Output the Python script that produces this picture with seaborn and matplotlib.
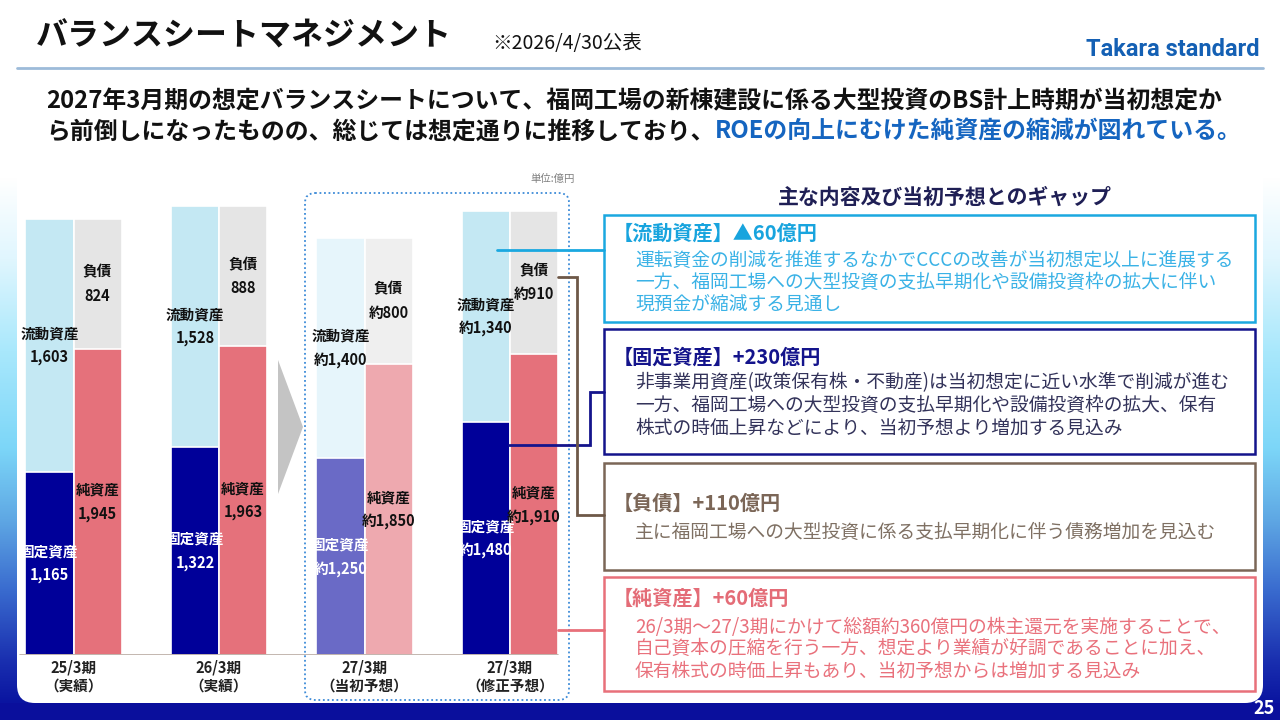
import matplotlib.pyplot as plt
import numpy as np
import pandas as pd
import seaborn as sns
from matplotlib.colors import LinearSegmentedColormap
from matplotlib.patches import FancyBboxPatch, Polygon, Rectangle

sns.set_theme(style="white")
plt.rcParams["font.family"] = ["Noto Sans CJK JP", "DejaVu Sans"]

W, H = 1280, 720

# ---- data (億円) ----
periods = ["25/3期\n（実績）", "26/3期\n（実績）", "27/3期\n（当初予想）", "27/3期\n（修正予想）"]
fixed_assets = [1165, 1322, 1250, 1480]
current_assets = [1603, 1528, 1400, 1340]
net_assets = [1945, 1963, 1850, 1910]
liabilities = [824, 888, 800, 910]
approx = [False, False, True, True]
initial_forecast = [False, False, True, False]

sides = ["資産", "負債・純資産"]

# ---- texts ----
title = "バランスシートマネジメント"
date_note = "※2026/4/30公表"
logo = "Takara standard"
lead_1 = "2027年3月期の想定バランスシートについて、福岡工場の新棟建設に係る大型投資のBS計上時期が当初想定か"
lead_2a = "ら前倒しになったものの、総じては想定通りに推移しており、"
lead_2b = "ROEの向上にむけた純資産の縮減が図れている。"
gap_heading = "主な内容及び当初予想とのギャップ"
box_titles = ["【流動資産】▲60億円", "【固定資産】+230億円", "【負債】+110億円", "【純資産】+60億円"]
box_bodies = [
    ["運転資金の削減を推進するなかでCCCの改善が当初想定以上に進展する",
     "一方、福岡工場への大型投資の支払早期化や設備投資枠の拡大に伴い",
     "現預金が縮減する見通し"],
    ["非事業用資産(政策保有株・不動産)は当初想定に近い水準で削減が進む",
     "一方、福岡工場への大型投資の支払早期化や設備投資枠の拡大、保有",
     "株式の時価上昇などにより、当初予想より増加する見込み"],
    ["主に福岡工場への大型投資に係る支払早期化に伴う債務増加を見込む"],
    ["26/3期～27/3期にかけて総額約360億円の株主還元を実施することで、",
     "自己資本の圧縮を行う一方、想定より業績が好調であることに加え、",
     "保有株式の時価上昇もあり、当初予想からは増加する見込み"],
]

# colours per segment (actual / initial forecast)
col_fixed = ["#6a6ac6" if f else "#000099" for f in initial_forecast]
col_current = ["#e6f5fb" if f else "#c4e8f3" for f in initial_forecast]
col_net = ["#eea9af" if f else "#e5717b" for f in initial_forecast]
col_liab = ["#efefef" if f else "#e5e5e5" for f in initial_forecast]

fig = plt.figure(figsize=(W / 100, H / 100), dpi=100)

# ---- background layer (pixel coordinates) ----
bg = fig.add_axes([0, 0, 1, 1])
bg.set_xlim(0, W)
bg.set_ylim(H, 0)
bg.axis("off")
bg.set_zorder(0)

grad_cmap = LinearSegmentedColormap.from_list(
    "bggrad",
    [(0.0, "#ffffff"), (0.15, "#e0f6fe"), (0.32, "#a9e8fc"), (0.5, "#7cd6f8"),
     (0.63, "#5fa8e4"), (0.76, "#3a6ccf"), (0.89, "#1a30b0"), (0.97, "#0a14a0"),
     (1.0, "#0a0f9c")],
)
grad = np.linspace(0, 1, 256).reshape(-1, 1)
bg.imshow(grad, cmap=grad_cmap, aspect="auto", extent=(0, W, H, 177), origin="upper", zorder=0)
bg.add_patch(Rectangle((0, 703), W, 17, fc="#0a0f9c", ec="none", zorder=0.5))
bg.add_patch(FancyBboxPatch((17, 110), 1246, 593, boxstyle="round,pad=0,rounding_size=18",
                            fc="white", ec="none", zorder=1))
bg.add_patch(FancyBboxPatch((305, 193), 264, 507, boxstyle="round,pad=0,rounding_size=10",
                            fill=False, ec="#3d8bd8", lw=1.3, ls=(0, (1, 1.5)), zorder=2))
bg.add_patch(Polygon([(278, 360), (303, 427), (278, 494)], closed=True, fc="#c4c4c4", ec="none", zorder=2))

# ---- chart ----
ax = fig.add_axes([0.75 / W, (H - 655) / H, 582 / W, 472.5 / H])
ax.set_zorder(1)
ax.patch.set_alpha(0)

df = pd.DataFrame({
    "period": periods * 2,
    "side": [sides[0]] * 4 + [sides[1]] * 4,
    "total": [f + c for f, c in zip(fixed_assets, current_assets)]
             + [n + l for n, l in zip(net_assets, liabilities)],
    "base": fixed_assets + net_assets,
})

# totals first, then the lower segment on top of them
for col in ["total", "base"]:
    sns.barplot(data=df, x="period", y=col, hue="side", order=periods, hue_order=sides,
                palette=["#cccccc", "#cccccc"], width=0.66, gap=0, dodge=True,
                errorbar=None, legend=False, edgecolor="white", linewidth=1.2, ax=ax)

for cont, cols in zip(ax.containers, [col_current, col_liab, col_fixed, col_net]):
    for bar, c in zip(cont, cols):
        bar.set_facecolor(c)

ax.set_xlim(-0.5, 3.5)
ax.set_ylim(0, 3000)
ax.set_xlabel("")
ax.set_ylabel("")
ax.set_yticks([])
ax.set_xticks(range(len(periods)))
ax.set_xticklabels(periods, fontsize=10.5, fontweight="bold", color="#222222", linespacing=1.15)
ax.tick_params(axis="x", length=0, pad=3)
sns.despine(ax=ax, left=True, bottom=True)
ax.axhline(0, xmin=(20 - 0.75) / 582, xmax=(558 - 0.75) / 582, color="#b9aaa2", lw=1.2, zorder=5)

off = 0.165


def seg_label(x, lo, hi, name, value, color):
    mid = (lo + hi) / 2
    kw = dict(textcoords="offset points", ha="center", va="center",
              fontsize=10.5, fontweight="bold", color=color, zorder=6)
    ax.annotate(name, (x, mid), xytext=(0, 8.6), **kw)
    ax.annotate(value, (x, mid), xytext=(0, -8.6), **kw)


for i in range(len(periods)):
    pre = "約" if approx[i] else ""
    fa, ca, na, li = fixed_assets[i], current_assets[i], net_assets[i], liabilities[i]
    seg_label(i - off, 0, fa, "固定資産", f"{pre}{fa:,}", "white")
    seg_label(i - off, fa, fa + ca, "流動資産", f"{pre}{ca:,}", "#111111")
    seg_label(i + off, 0, na, "純資産", f"{pre}{na:,}", "#111111")
    seg_label(i + off, na, na + li, "負債", f"{pre}{li:,}", "#111111")

# ---- foreground layer (pixel coordinates) ----
fg = fig.add_axes([0, 0, 1, 1])
fg.set_xlim(0, W)
fg.set_ylim(H, 0)
fg.axis("off")
fg.set_zorder(3)
fg.patch.set_alpha(0)

fg.text(36, 37, title, fontsize=23, fontweight="bold", va="center", color="#111111")
fg.text(492, 43, date_note, fontsize=14, va="center", color="#111111")
fg.text(1260, 49, logo, fontsize=17, fontweight="bold", va="center", ha="right",
        color="#1460b4", family=["Liberation Sans Narrow", "Roboto", "DejaVu Sans"])
fg.plot([17, 1263], [68, 68], color="#9dbbd9", lw=2)

fg.text(46, 101, lead_1, fontsize=17.2, fontweight="bold", va="center", color="#111111")
t2 = fg.text(46, 132, lead_2a, fontsize=17.2, fontweight="bold", va="center", color="#111111")
fg.annotate(lead_2b, xy=(1, 0.5), xycoords=t2, ha="left", va="center",
            fontsize=17.2, fontweight="bold", color="#1565c0")

fg.text(553, 179, "単位:億円", fontsize=7.5, ha="center", va="center", color="#808080")
fg.text(945, 197, gap_heading, fontsize=15, fontweight="bold", ha="center", va="center", color="#1f1f55")

box_layout = [
    dict(top=215, bottom=322, edge="#1aa8e0", tcol="#18a4de", bcol="#3ab2e6", ty=233,
         by=[260, 282, 305]),
    dict(top=329, bottom=454, edge="#14148c", tcol="#14148c", bcol="#33335a", ty=357,
         by=[383, 405, 428]),
    dict(top=463, bottom=570, edge="#7b6657", tcol="#7b6657", bcol="#7f7063", ty=503,
         by=[532]),
    dict(top=577, bottom=691, edge="#e8707a", tcol="#e46c77", bcol="#e9717c", ty=598,
         by=[627, 648, 671]),
]
for lay, ttl, body in zip(box_layout, box_titles, box_bodies):
    fg.add_patch(Rectangle((604, lay["top"]), 651, lay["bottom"] - lay["top"],
                           fill=False, ec=lay["edge"], lw=1.8))
    fg.text(613, lay["ty"], ttl, fontsize=14.5, fontweight="bold", va="center", color=lay["tcol"])
    for line, y in zip(body, lay["by"]):
        fg.text(635, y, line, fontsize=13.5, va="center", color=lay["bcol"])

# connectors from the revised forecast bars to the boxes
fg.plot([497, 604], [250, 250], color="#1aa8e0", lw=2, solid_joinstyle="miter")
fg.plot([509, 590, 590, 604], [445, 445, 392, 392], color="#14148c", lw=2, solid_joinstyle="miter")
fg.plot([558, 577, 577, 604], [277, 277, 515, 515], color="#6e5848", lw=2, solid_joinstyle="miter")
fg.plot([558, 604], [630, 630], color="#e8707a", lw=2)

fg.text(1264, 709, "25", fontsize=13, fontweight="bold", ha="center", va="center", color="white")

fig.savefig("out.png", dpi=100)
